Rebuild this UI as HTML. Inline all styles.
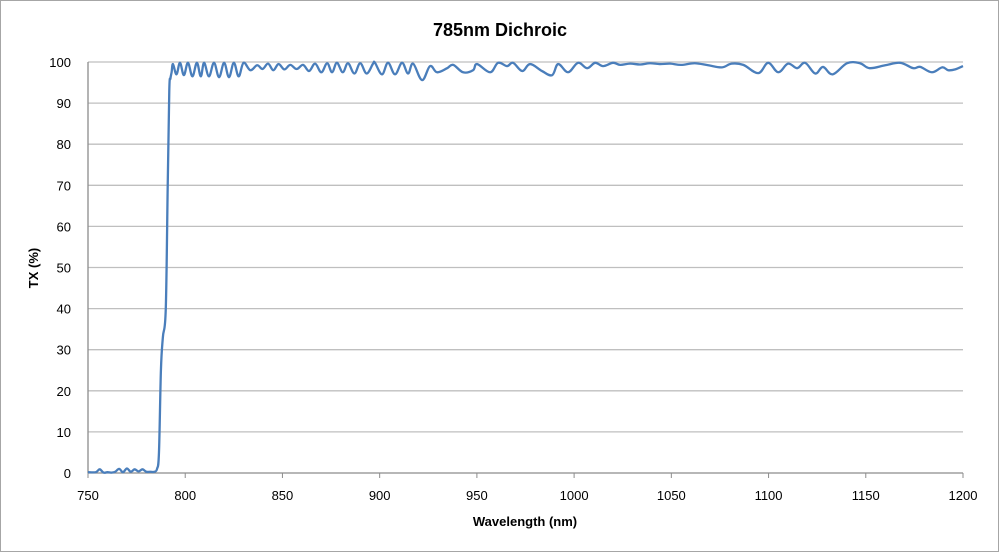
<!DOCTYPE html>
<html><head><meta charset="utf-8">
<style>
body{margin:0;background:#fff;}
svg{display:block;font-family:"Liberation Sans",Arial,sans-serif;}
</style></head>
<body>
<svg id="chart" width="1000" height="553" viewBox="0 0 1000 553">
<rect x="0.5" y="0.5" width="998" height="551" fill="#fff" stroke="#a6a6a6"/>
<text x="500" y="36" text-anchor="middle" font-size="18" font-weight="bold" fill="#000">785nm Dichroic</text>
<g id="grid"></g>
<g id="yticks"></g>
<g id="xticks"></g>
<text x="0" y="0" transform="translate(38,268) rotate(-90)" text-anchor="middle" font-size="13" font-weight="bold">TX (%)</text>
<text x="525" y="526" text-anchor="middle" font-size="13" font-weight="bold">Wavelength (nm)</text>
<path id="series" fill="none" stroke="#4a7ebb" stroke-width="2.3" stroke-linejoin="round"/>
</svg>
<script>
const xTicks=[750,800,850,900,950,1000,1050,1100,1150,1200];
const yTicks=[0,10,20,30,40,50,60,70,80,90,100];
const wavelengths=[750,754,756,758,760,762,764,766,768,770,772,774,776,778,780,782,784,785.5,786.5,787.5,788.5,790,791,791.8,792.4,793,793.7,795.5,797.3,799.3,801.4,803.7,806,808,809.7,812.2,814.8,817.4,820,822.5,825,827.5,830,833.5,837,839.8,842.6,845.3,848,851,854,857.3,860.6,863.7,866.8,870,873,875.5,878,881,883.7,887,890,893.3,896.6,897.6,901.2,904.3,907.9,911.5,914.6,917.2,921.8,925.9,929.5,934.7,937.8,942.9,948,950.1,956.8,960.9,965.5,968.6,973.3,977.4,983.5,988.7,991.8,996.9,1002,1006.7,1010.8,1014.9,1020,1023.7,1028.8,1034,1039,1044,1049.4,1055,1062,1069,1076,1081,1087,1094.7,1099.8,1105,1110,1114.7,1118.8,1124,1128,1133,1140.4,1147,1152,1160,1167.7,1174.4,1178,1184,1189.3,1192.4,1196,1200];
const tx=[0.2,0.2,0.9,0.1,0.2,0.1,0.3,1.0,0.2,1.1,0.3,0.9,0.4,0.9,0.3,0.3,0.3,1,5,25,33,40,70,93,96,97.5,99.5,97,99.8,96.8,99.8,96.5,99.8,96.5,99.8,96.5,99.8,96.3,99.8,96.3,99.8,96.5,99.8,98,99.2,98.3,99.6,98,99.5,98.2,99.3,98.3,99.3,97.8,99.6,97.5,99.7,97.5,99.8,97.5,99.7,97.2,99.7,97.2,99.6,99.8,97,99.8,97,99.8,97.2,99.6,95.6,99,97.5,98.5,99.3,97.5,98,99.5,97.5,99.8,99,99.8,97.8,99.5,97.8,96.8,99.5,97.5,99.8,98.5,99.8,99,99.8,99.3,99.6,99.4,99.7,99.5,99.6,99.3,99.7,99.2,98.7,99.6,99.3,97.3,99.8,97.5,99.6,98.5,99.8,97.2,98.8,97,99.7,99.7,98.5,99.2,99.8,98.5,98.8,97.5,98.7,98,98.2,99];
const X0=88,X1=963,Y0=473,Y1=62;
function xs(v){return X0+(v-750)/(1200-750)*(X1-X0);}
function ys(v){return Y0-(v-0)/(100-0)*(Y0-Y1);}
const NS="http://www.w3.org/2000/svg";
const grid=document.getElementById('grid'),yt=document.getElementById('yticks'),xt=document.getElementById('xticks');
yTicks.forEach(t=>{
  const l=document.createElementNS(NS,'line');
  
  
  l.setAttribute('x1',X0);l.setAttribute('x2',X1);l.setAttribute('y1',ys(t));l.setAttribute('y2',ys(t));
  l.setAttribute('stroke',t===0?'#8c8c8c':'#bfbfbf');l.setAttribute('stroke-width','1.3');
  grid.appendChild(l);
  const tx_=document.createElementNS(NS,'text');
  
  
  tx_.setAttribute('x',71);tx_.setAttribute('y',ys(t)+5);tx_.setAttribute('text-anchor','end');tx_.setAttribute('font-size','13');
  tx_.textContent=t;yt.appendChild(tx_);
});
const ax=document.createElementNS(NS,'line');


ax.setAttribute('x1',X0);ax.setAttribute('x2',X0);ax.setAttribute('y1',Y1);ax.setAttribute('y2',Y0);ax.setAttribute('stroke','#8c8c8c');ax.setAttribute('stroke-width','1.3');
grid.appendChild(ax);
xTicks.forEach(t=>{
  const m=document.createElementNS(NS,'line');
  
  
  m.setAttribute('x1',xs(t));m.setAttribute('x2',xs(t));m.setAttribute('y1',Y0);m.setAttribute('y2',Y0+5);m.setAttribute('stroke','#8c8c8c');
  xt.appendChild(m);
  const lb=document.createElementNS(NS,'text');
  
  
  lb.setAttribute('x',xs(t));lb.setAttribute('y',500);lb.setAttribute('text-anchor','middle');lb.setAttribute('font-size','13');
  lb.textContent=t;xt.appendChild(lb);
});
const pts=wavelengths.map((w,i)=>[xs(w),ys(tx[i])]);
let d='M'+pts[0][0].toFixed(2)+','+pts[0][1].toFixed(2);
for(let i=0;i<pts.length-1;i++){
  const p0=pts[Math.max(0,i-1)],p1=pts[i],p2=pts[i+1],p3=pts[Math.min(pts.length-1,i+2)];
  const t=0.18;
  const c1=[p1[0]+(p2[0]-p0[0])*t,p1[1]+(p2[1]-p0[1])*t];
  const c2=[p2[0]-(p3[0]-p1[0])*t,p2[1]-(p3[1]-p1[1])*t];
  d+=' C'+c1[0].toFixed(2)+','+c1[1].toFixed(2)+' '+c2[0].toFixed(2)+','+c2[1].toFixed(2)+' '+p2[0].toFixed(2)+','+p2[1].toFixed(2);
}
document.getElementById('series').setAttribute('d',d);
</script>
</body></html>
